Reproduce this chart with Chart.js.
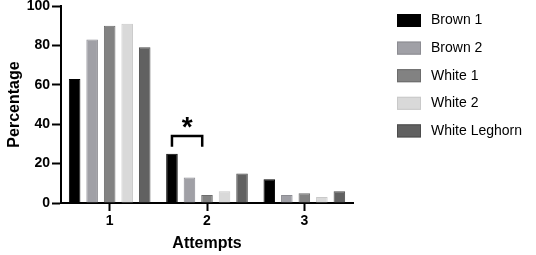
<!DOCTYPE html>
<html>
<head>
<meta charset="utf-8">
<script src="https://cdn.jsdelivr.net/npm/chart.js@4"></script>
<style>
  body { margin: 0; background: #fff; }
  canvas { display: block; }
</style>
</head>
<body>
<canvas id="barChart" width="536" height="255"></canvas>
<script>
// Data
const attempts = ["1", "2", "3"];
const seriesNames = ["Brown 1", "Brown 2", "White 1", "White 2", "White Leghorn"];
const brown1 = [63, 25, 12];
const brown2 = [83, 13, 4];
const white1 = [90, 4, 5];
const white2 = [91, 6, 3];
const whiteLeghorn = [79, 15, 6];
const yTicks = [0, 20, 40, 60, 80, 100];

// significance bracket (Brown 1 vs White 1 at attempt 2)
const sigCategory = 1;
const sigTop = 34;
const sigLeg = 28.5;
const sigMark = "*";

const fills = ["#000000", "#a0a0a6", "#828282", "#d9d9d9", "#616161"];
const borders = ["#000000", "#8c8c92", "#6c6c6c", "#c9c9c9", "#4c4c4c"];
const allValues = [brown1, brown2, white1, white2, whiteLeghorn];

Chart.defaults.font.family = "'Liberation Sans', Arial, sans-serif";
Chart.defaults.color = "#000";

const datasets = seriesNames.map((name, i) => ({
  label: name,
  data: allValues[i],
  backgroundColor: fills[i],
  borderColor: borders[i],
  borderWidth: 1,
  categoryPercentage: 0.9,
  barPercentage: 0.66,
}));

// draws legend on the right and the significance bracket
const extras = {
  id: "extras",
  afterDraw(chart) {
    const ctx = chart.ctx;
    ctx.save();
    // legend
    ctx.font = "14px 'Liberation Sans', Arial, sans-serif";
    ctx.textBaseline = "middle";
    ctx.textAlign = "left";
    seriesNames.forEach((name, i) => {
      const cy = 20.5 + i * 27.6;
      ctx.fillStyle = fills[i];
      ctx.fillRect(397, cy - 6.5, 24, 13);
      ctx.strokeStyle = borders[i];
      ctx.lineWidth = 1;
      ctx.strokeRect(397.5, cy - 6, 23, 12);
      ctx.fillStyle = "#000";
      ctx.fillText(name, 431, cy);
    });

    // bracket
    const y = chart.scales.y;
    const a = chart.getDatasetMeta(0).data[sigCategory];
    const b = chart.getDatasetMeta(2).data[sigCategory];
    const x1 = a.x;
    const x2 = b.x - b.width / 2 + 1;
    const yt = y.getPixelForValue(sigTop);
    const yl = y.getPixelForValue(sigLeg);
    ctx.strokeStyle = "#000";
    ctx.lineWidth = 2.5;
    ctx.beginPath();
    ctx.moveTo(x1, yl);
    ctx.lineTo(x1, yt);
    ctx.lineTo(x2, yt);
    ctx.lineTo(x2, yl);
    ctx.stroke();
    ctx.fillStyle = "#000";
    ctx.font = "bold 28px 'Liberation Sans', Arial, sans-serif";
    ctx.textAlign = "center";
    ctx.textBaseline = "alphabetic";
    ctx.fillText(sigMark, (x1 + x2) / 2, yt - 0.5);
    ctx.restore();
  },
};

new Chart(document.getElementById("barChart").getContext("2d"), {
  type: "bar",
  data: { labels: attempts, datasets: datasets },
  options: {
    responsive: false,
    animation: false,
    devicePixelRatio: 1,
    layout: { padding: { top: 6, right: 183, left: 0, bottom: 0 } },
    plugins: { legend: { display: false }, tooltip: { enabled: false } },
    scales: {
      x: {
        offset: true,
        grid: {
          drawOnChartArea: false,
          drawTicks: true,
          tickLength: 8,
          tickWidth: 2,
          tickColor: "#000",
          offset: false,
        },
        border: { display: true, color: "#000", width: 2 },
        ticks: { font: { size: 14, weight: "bold" }, padding: 2, color: "#000" },
        title: {
          display: true,
          text: "Attempts",
          font: { size: 16, weight: "bold" },
          padding: { top: 0, bottom: 2 },
          color: "#000",
        },
        afterFit(scale) {
          scale.height = 52;
        },
      },
      y: {
        min: 0,
        max: 100,
        afterBuildTicks(scale) {
          scale.ticks = yTicks.map((v) => ({ value: v }));
        },
        grid: {
          drawOnChartArea: false,
          drawTicks: true,
          tickLength: 9,
          tickWidth: 2,
          tickColor: "#000",
        },
        border: { display: true, color: "#000", width: 2 },
        ticks: { font: { size: 14, weight: "bold" }, padding: 2, color: "#000" },
        title: {
          display: true,
          text: "Percentage",
          font: { size: 16, weight: "bold" },
          padding: { top: 5, bottom: 0 },
          color: "#000",
        },
        afterFit(scale) {
          scale.width = 61;
          scale.paddingTop = 0;
          scale.paddingBottom = 0;
        },
      },
    },
  },
  plugins: [extras],
});
</script>
</body>
</html>
